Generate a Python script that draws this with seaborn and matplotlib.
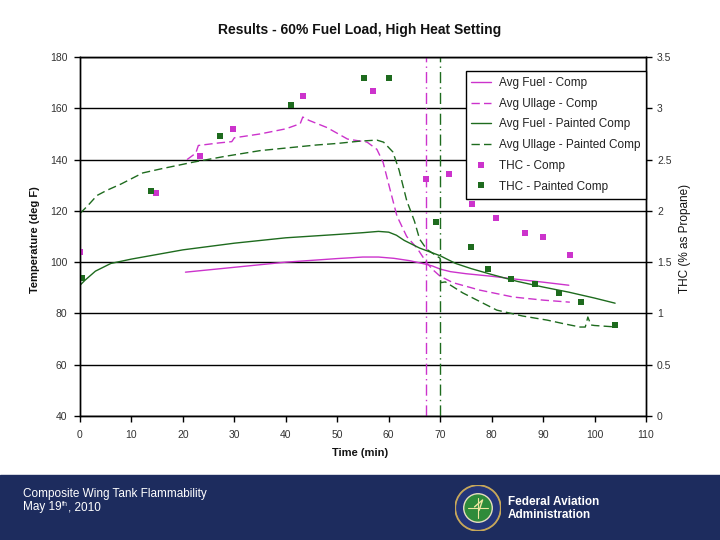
import numpy as np
import pandas as pd
import matplotlib
matplotlib.use("Agg")
import matplotlib.pyplot as plt
from matplotlib.lines import Line2D
from matplotlib.patches import Circle, Rectangle
from matplotlib.ticker import FuncFormatter
import seaborn as sns

# ---------------- data ----------------
fuel_comp_t = [20.5, 25, 30, 35, 40, 45, 50, 55, 58, 61, 64, 67, 68.5, 70, 72, 75, 80, 85, 90, 95]
fuel_comp_T = [96.1, 97, 98, 99, 100, 100.7, 101.4, 102, 102, 101.5, 100.6, 99.3, 98.5, 97.3, 96.3, 95.5, 94.5, 93.3, 92.2, 91]

ullage_comp_t = [20.8, 22.5, 23, 27, 29.5, 30, 35, 40, 42.8, 43.3, 44.5, 48, 52, 55.8, 57.7, 58.9, 60.3,
                 61.6, 63.5, 65.5, 67.4, 68.6, 70, 72.5, 77.7, 84.2, 90, 95.2]
ullage_comp_T = [140, 142.5, 145.5, 146.5, 147, 148.5, 150, 152, 154, 156.6, 155.3, 152.5, 148, 146.8, 144, 139, 128,
                 118, 110, 105.5, 99.7, 97, 94.5, 92, 89.1, 86.4, 85.2, 84.4]

fuel_paint_t = [0, 1, 3, 6, 10, 15, 20, 30, 40, 50, 55, 58, 60, 61.5, 63, 66, 68, 70, 73, 76, 80, 85, 90, 95, 100, 104]
fuel_paint_T = [91, 93, 96.5, 99.5, 101.2, 103, 104.8, 107.4, 109.5, 110.8, 111.5, 112, 111.7, 110.5, 108.5, 105.5,
                104, 102.5, 99.5, 97.5, 95.2, 92.5, 90.3, 88.3, 86, 84]

ullage_paint_t = [0, 1.5, 3.3, 5.2, 8, 12.2, 16, 22, 28, 35, 40, 46, 50, 54.4, 57.7, 59, 60.8, 62, 63.5, 65, 66, 67.4,
                  70, 70.1, 71, 74.4, 81, 86, 90.8, 94, 97.2, 98.2, 98.7, 99.3, 100, 103.6]
ullage_paint_T = [119, 122, 126, 128, 130.5, 134.8, 136.5, 139, 141.2, 143.5, 144.5, 145.7, 146.3, 147.2, 147.6, 146.8,
                  143, 136, 124, 116, 109, 105, 101.5, 92, 92.3, 88, 81.3, 79, 77.4, 76, 74.7, 74.7, 78.6, 75.5, 75.3, 74.8]

thc_comp_t = [0, 14.8, 23.3, 29.7, 43.3, 57, 67.3, 71.7, 76.2, 80.9, 86.5, 90, 95.2]
thc_comp_v = [1.60, 2.17, 2.535, 2.80, 3.12, 3.17, 2.31, 2.36, 2.07, 1.93, 1.785, 1.75, 1.57]

thc_paint_t = [0.4, 13.8, 27.2, 41, 55.2, 60, 69.2, 76, 79.3, 83.8, 88.4, 93.1, 97.4, 104]
thc_paint_v = [1.35, 2.19, 2.73, 3.03, 3.30, 3.30, 1.89, 1.65, 1.43, 1.34, 1.29, 1.20, 1.11, 0.89]

vline_comp = 67.3
vline_paint = 70.0

y_ticks = [40, 60, 80, 100, 120, 140, 160, 180]
x_ticks = [0, 10, 20, 30, 40, 50, 60, 70, 80, 90, 100, 110]
y2_ticks = [0, 0.5, 1, 1.5, 2, 2.5, 3, 3.5]

labels = ["Avg Fuel - Comp", "Avg Ullage - Comp", "Avg Fuel - Painted Comp",
          "Avg Ullage - Painted Comp", "THC - Comp", "THC - Painted Comp"]

# ---------------- style ----------------
sns.set_style("white")
plt.rcParams['font.family'] = ['Liberation Sans', 'DejaVu Sans']

MAG = "#CC33CC"
GRN = "#1E6B1E"
NAVY = "#1D2C5E"

fig = plt.figure(figsize=(7.2, 5.4), dpi=100)
fig.patch.set_facecolor("white")
ax = fig.add_axes([0.1111, 0.2296, 0.7861, 0.6648])
ax2 = ax.twinx()

def line(t, T, color, ls, axis):
    df = pd.DataFrame({"t": t, "T": T})
    sns.lineplot(data=df, x="t", y="T", ax=axis, color=color, linestyle=ls, linewidth=1.0,
                 estimator=None, sort=False)

line(fuel_comp_t, fuel_comp_T, MAG, "-", ax)
line(ullage_comp_t, ullage_comp_T, MAG, (0, (6, 3)), ax)
line(fuel_paint_t, fuel_paint_T, GRN, "-", ax)
line(ullage_paint_t, ullage_paint_T, GRN, (0, (6, 3)), ax)

ax.axvline(vline_comp, color=MAG, linestyle=(0, (8, 3, 1, 3)), linewidth=1.0)
ax.axvline(vline_paint, color=GRN, linestyle=(0, (8, 3, 1, 3)), linewidth=1.0)

sns.scatterplot(x=thc_comp_t, y=thc_comp_v, ax=ax2, marker="s", s=22, color=MAG, linewidth=0)
sns.scatterplot(x=thc_paint_t, y=thc_paint_v, ax=ax2, marker="s", s=22, color=GRN, linewidth=0)

ax.set_xlim(0, 110)
ax.set_ylim(40, 180)
ax2.set_ylim(0, 3.5)
ax.set_xticks(x_ticks)
ax.set_yticks(y_ticks)
ax2.set_yticks(y2_ticks)
ax2.yaxis.set_major_formatter(FuncFormatter(lambda v, p: f"{v:g}"))
ax.set_xlabel("")
ax.set_ylabel("")
ax2.set_ylabel("")

ax.grid(axis="y", color="black", linewidth=1.0)
ax.grid(axis="x", visible=False)
for a in (ax, ax2):
    for s in a.spines.values():
        s.set_visible(True)
        s.set_color("black")
        s.set_linewidth(1.0)
ax.tick_params(axis="y", direction="out", length=4, width=1, color="black",
               labelsize=7.5, labelcolor="#333333", left=True, pad=5)
ax.tick_params(axis="x", direction="out", length=4, width=1, color="black",
               labelsize=7.5, labelcolor="#333333", bottom=True, pad=6)
ax2.tick_params(axis="y", direction="out", length=4, width=1, color="black",
                labelsize=7.5, labelcolor="#333333", right=True, pad=4)

handles = [
    Line2D([], [], color=MAG, lw=1.0, ls="-"),
    Line2D([], [], color=MAG, lw=1.0, ls=(0, (6, 3))),
    Line2D([], [], color=GRN, lw=1.0, ls="-"),
    Line2D([], [], color=GRN, lw=1.0, ls=(0, (6, 3))),
    Line2D([], [], color=MAG, marker="s", ls="none", markersize=4, markeredgewidth=0),
    Line2D([], [], color=GRN, marker="s", ls="none", markersize=4, markeredgewidth=0),
]
leg = ax2.legend(handles, labels, loc="upper right", bbox_to_anchor=(1.0, 0.961),
                 borderaxespad=0, frameon=True, fancybox=False, framealpha=1,
                 edgecolor="black", fontsize=8.5, labelspacing=0.74, handlelength=1.7,
                 handletextpad=0.6, borderpad=0.5)
leg.get_frame().set_linewidth(1.0)
for t in leg.get_texts():
    t.set_color("#222222")

# titles / labels
fig.text(0.5, 0.944, "Results - 60% Fuel Load, High Heat Setting", ha="center", va="center",
         fontsize=10, fontweight="bold", color="#111111")
fig.text(0.0486, 0.557, "Temperature (deg F)", rotation=90, ha="center", va="center",
         fontsize=8, fontweight="bold", color="#111111")
fig.text(0.951, 0.559, "THC (% as Propane)", rotation=90, ha="center", va="center",
         fontsize=8.5, color="#111111")
fig.text(0.5, 0.161, "Time (min)", ha="center", va="center",
         fontsize=8, fontweight="bold", color="#111111")

# footer band
fig.patches.append(Rectangle((0, 0), 1, 65 / 540, transform=fig.transFigure, color=NAVY, zorder=-1))
fig.text(23 / 720, 1 - 494 / 540, "Composite Wing Tank Flammability", ha="left", va="center",
         fontsize=8.5, color="white")
renderer = fig.canvas.get_renderer()
t1 = fig.text(23 / 720, 1 - 507 / 540, "May 19", ha="left", va="center", fontsize=8.5, color="white")
x_end = t1.get_window_extent(renderer).x1 / fig.bbox.width
t2 = fig.text(x_end + 0.5 / 720, 1 - 504 / 540, "th", ha="left", va="center", fontsize=5, color="white")
x_end2 = t2.get_window_extent(renderer).x1 / fig.bbox.width
fig.text(x_end2, 1 - 507 / 540, ", 2010", ha="left", va="center", fontsize=8.5, color="white")
fig.text(508 / 720, 1 - 502 / 540, "Federal Aviation", ha="left", va="center",
         fontsize=8.5, fontweight="bold", color="white")
fig.text(508 / 720, 1 - 515 / 540, "Administration", ha="left", va="center",
         fontsize=8.5, fontweight="bold", color="white")

# FAA seal
lax = fig.add_axes([455 / 720, 1 - 531 / 540, 46 / 720, 46 / 540])
lax.set_xlim(-1, 1)
lax.set_ylim(-1, 1)
lax.set_aspect("equal")
lax.axis("off")
lax.add_patch(Circle((0, 0), 1.0, color="#C9A95A"))
lax.add_patch(Circle((0, 0), 0.92, color="#24357A"))
lax.add_patch(Circle((0, 0), 0.62, color="#E8E0C0"))
lax.add_patch(Circle((0, 0), 0.56, color="#2E8B3A"))
lax.plot([0, 0], [-0.45, 0.45], color="#F0E6A0", lw=0.8)
lax.plot([-0.45, 0.45], [0, 0], color="#F0E6A0", lw=0.8)
lax.plot([-0.15, 0.2, 0.05], [0.05, 0.35, -0.1], color="#F0E6A0", lw=1.0)

fig.savefig("out.png", dpi=100, facecolor=fig.get_facecolor())
